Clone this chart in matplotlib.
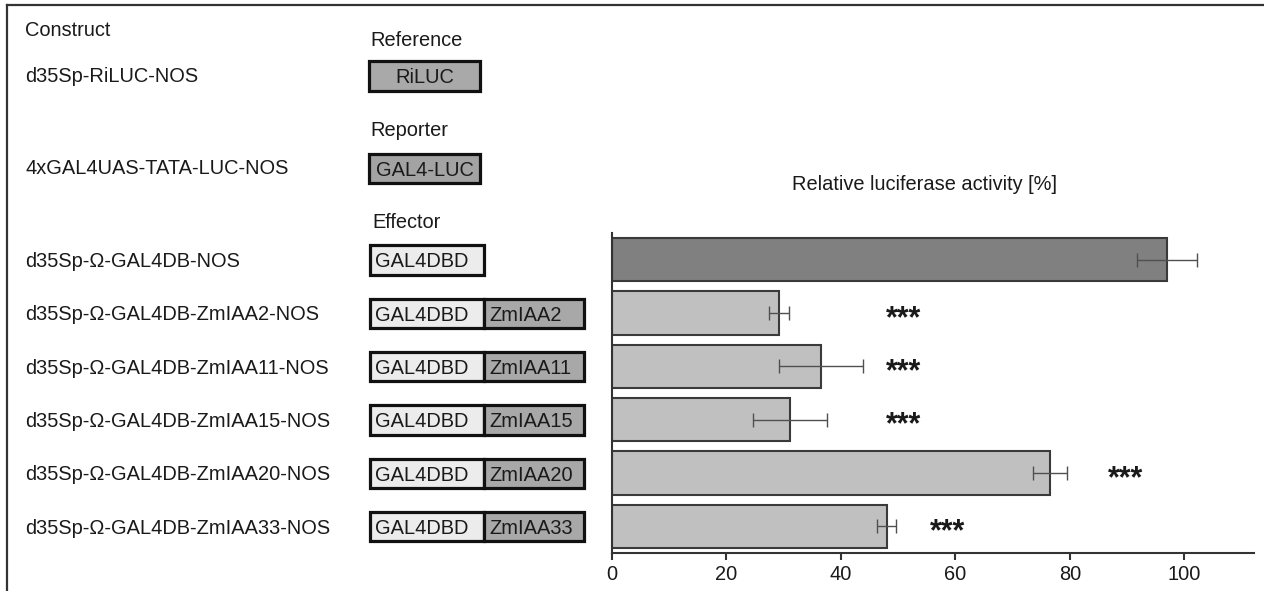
import matplotlib
matplotlib.use('Agg')
import matplotlib.pyplot as plt
from matplotlib.patches import Rectangle
from matplotlib.lines import Line2D

plt.rcParams['font.family'] = ['Liberation Sans', 'DejaVu Sans']

# data
constructs = ['d35Sp-Ω-GAL4DB-NOS', 'd35Sp-Ω-GAL4DB-ZmIAA2-NOS', 'd35Sp-Ω-GAL4DB-ZmIAA11-NOS',
              'd35Sp-Ω-GAL4DB-ZmIAA15-NOS', 'd35Sp-Ω-GAL4DB-ZmIAA20-NOS', 'd35Sp-Ω-GAL4DB-ZmIAA33-NOS']
fusions = [None, 'ZmIAA2', 'ZmIAA11', 'ZmIAA15', 'ZmIAA20', 'ZmIAA33']
activity = [97.0, 29.2, 36.5, 31.1, 76.6, 48.0]
err = [5.3, 1.7, 7.3, 6.5, 3.0, 1.7]
signif = ['', '***', '***', '***', '***', '***']
star_pos = [None, 51, 51, 51, 89.8, 58.7]
xticks = [0, 20, 40, 60, 80, 100]

W, H = 1264, 591
FS = 14.4
fig = plt.figure(figsize=(W / 100, H / 100), dpi=100)

# overlay in pixel coords for the construct scheme
ax0 = fig.add_axes([0, 0, 1, 1])
ax0.set_xlim(0, W)
ax0.set_ylim(H, 0)
ax0.axis('off')
ax0.patch.set_alpha(0)

# bar chart
ax = fig.add_axes([612 / W, (H - 553) / H, 642 / W, 320 / H])
ax.patch.set_alpha(0)
ypos = list(range(len(activity)))
colors = ['#808080'] + ['#c0c0c0'] * (len(activity) - 1)
ax.barh(ypos, activity, height=0.81, color=colors, edgecolor='#3a3a3a', linewidth=1.5, zorder=2)
ax.errorbar(activity, ypos, xerr=err, fmt='none', ecolor='#505050', elinewidth=1,
            capsize=5, capthick=1, zorder=3)
for y, s, x in zip(ypos, signif, star_pos):
    if s:
        ax.annotate(s, (x, y), xytext=(0, -10), textcoords='offset points',
                    ha='center', va='baseline', fontsize=22, fontweight='bold', color='#1a1a1a')
ax.set_xlim(0, 112.2)
ax.set_ylim(5.5, -0.5)
ax.set_xticks(xticks)
ax.set_yticks([])
ax.tick_params(axis='x', direction='out', length=5, width=1.5, color='#333333',
               labelsize=FS, labelcolor='#1a1a1a', pad=4)
for side in ['top', 'right']:
    ax.spines[side].set_visible(False)
for side in ['left', 'bottom']:
    ax.spines[side].set_linewidth(1.5)
    ax.spines[side].set_color('#333333')
ax0.text(924, 182, 'Relative luciferase activity [%]', ha='center', va='center_baseline',
         fontsize=FS, color='#1a1a1a')

# frame (top and left edge only)
ax0.add_line(Line2D([7, W], [5, 5], color='#333333', lw=1.6))
ax0.add_line(Line2D([7, 7], [5, H], color='#333333', lw=1.6))

txt = dict(fontsize=FS, color='#1a1a1a', va='center_baseline', ha='left')
ax0.text(25, 29, 'Construct', **txt)
ax0.text(25, 75, 'd35Sp-RiLUC-NOS', **txt)
ax0.text(25, 167, '4xGAL4UAS-TATA-LUC-NOS', **txt)
ax0.text(370, 39, 'Reference', **txt)
ax0.text(370, 129, 'Reporter', **txt)
ax0.text(372, 221, 'Effector', **txt)


def box(x0, y0, w, h, fc, label, center=True):
    ax0.add_patch(Rectangle((x0, y0), w, h, facecolor=fc, edgecolor='#111111', lw=2.3))
    if center:
        ax0.text(x0 + w / 2, y0 + h / 2, label, fontsize=FS, color='#1a1a1a',
                 ha='center', va='center_baseline')
    else:
        ax0.text(x0 + 5, y0 + h / 2, label, fontsize=FS, color='#1a1a1a',
                 ha='left', va='center_baseline')


box(369, 61, 111, 29.5, '#a9a9a9', 'RiLUC')
box(369, 153.5, 111, 29.5, '#a3a3a3', 'GAL4-LUC')

for y, name, fus in zip(ypos, constructs, fusions):
    yc = H - ax.transData.transform((0, y))[1]
    ax0.text(25, yc, name, **txt)
    box(370, yc - 14.5, 114, 29.5, '#ececec', 'GAL4DBD', center=False)
    if fus:
        box(484, yc - 14.5, 100, 29.5, '#a8a8a8', fus, center=False)

fig.savefig('out.png', dpi=100)
